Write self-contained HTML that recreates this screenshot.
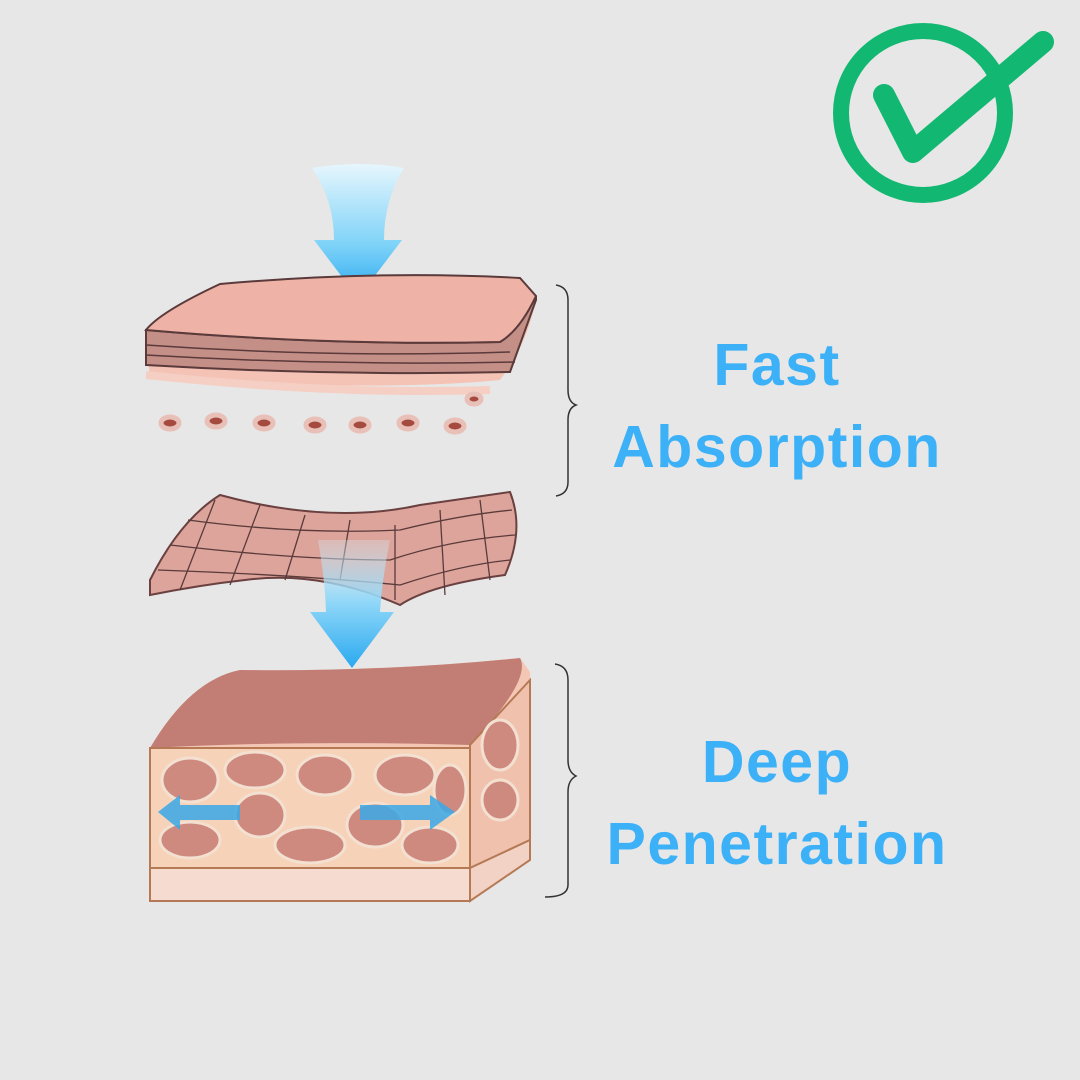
<!DOCTYPE html>
<html><head><meta charset="utf-8"><style>
html,body{margin:0;padding:0;background:#e7e7e7;}
svg{display:block}
</style></head><body>
<svg width="1080" height="1080" viewBox="0 0 1080 1080" xmlns="http://www.w3.org/2000/svg">
<defs>
<linearGradient id="ar" x1="0" y1="0" x2="0" y2="1">
<stop offset="0" stop-color="#e6f6fd"/><stop offset="0.6" stop-color="#7fd3f8"/><stop offset="1" stop-color="#2aa9ef"/></linearGradient>
<linearGradient id="ar2" x1="0" y1="0" x2="0" y2="1">
<stop offset="0" stop-color="#d9eef8" stop-opacity="0.3"/><stop offset="0.5" stop-color="#8dd6f8"/><stop offset="1" stop-color="#2aa9ef"/></linearGradient>
</defs>
<rect width="1080" height="1080" fill="#e7e7e7"/>
<!-- check -->
<circle cx="923" cy="113" r="82" fill="none" stroke="#12b872" stroke-width="16"/>
<path d="M884 95 L913 152 L1043 42" fill="none" stroke="#12b872" stroke-width="22" stroke-linecap="round" stroke-linejoin="round"/>
<!-- top arrow -->
<path d="M312 168 Q360 160 404 168 Q384 200 384 240 L402 240 L358 298 L314 240 L334 240 Q334 200 312 168Z" fill="url(#ar)"/>
<!-- top layer -->
<path d="M146 340 Q160 320 220 290 Q380 270 520 280 L536 296 Q530 340 500 380 Q380 392 150 378Z" fill="#f4c3b6"/>
<path d="M146 330 L146 365 Q330 376 510 372 L536 300 L536 296 Q520 330 500 342 Q330 346 146 330Z" fill="#c48f87" stroke="#5a3a3a" stroke-width="2"/>
<path d="M146 330 Q160 312 220 284 Q380 270 520 278 L536 296 Q520 330 500 342 Q330 346 146 330Z" fill="#eeb3a6" stroke="#5a3a3a" stroke-width="2"/>
<path d="M146 345 Q330 358 510 352 M146 355 Q330 366 515 362" stroke="#5a3a3a" stroke-width="1.5" fill="none"/>
<path d="M146 375 Q330 395 490 390" stroke="#f5cfc4" stroke-width="8" fill="none"/>
<g fill="#a54a3e" stroke="#e8c0b8" stroke-width="5">
<ellipse cx="170" cy="423" rx="9" ry="6"/><ellipse cx="216" cy="421" rx="9" ry="6"/><ellipse cx="264" cy="423" rx="9" ry="6"/><ellipse cx="315" cy="425" rx="9" ry="6"/><ellipse cx="360" cy="425" rx="9" ry="6"/><ellipse cx="408" cy="423" rx="9" ry="6"/><ellipse cx="455" cy="426" rx="9" ry="6"/><ellipse cx="474" cy="399" rx="7" ry="5"/>
</g>
<!-- mesh -->
<path d="M150 580 Q180 520 220 495 Q330 525 420 505 L510 492 Q525 530 505 575 Q430 585 400 605 Q320 570 245 580 Q200 585 150 595Z" fill="#dca49a" stroke="#6a4040" stroke-width="2"/>
<g stroke="#5a3a3a" stroke-width="1.3" fill="none">
<path d="M170 545 Q300 560 390 560 Q450 540 515 535"/><path d="M188 520 Q300 535 400 530 Q460 515 512 510"/><path d="M158 570 Q300 575 400 585 Q460 565 510 560"/>
<path d="M215 500 L180 590"/><path d="M260 505 L230 585"/><path d="M305 515 L285 580"/><path d="M350 520 L340 580"/><path d="M395 525 L395 600"/><path d="M440 510 L445 595"/><path d="M480 500 L490 580"/>
</g>
<path d="M318 540 L390 540 Q382 580 380 612 L394 612 L352 668 L310 612 L326 612 Q325 580 318 540Z" fill="url(#ar2)"/>
<!-- block -->
<path d="M150 748 Q190 680 240 670 Q380 672 520 658 L530 672 L530 840 L470 900 L150 900Z" fill="#f4c7b4"/>
<path d="M150 748 Q190 680 240 670 Q380 672 520 658 Q532 680 470 745 Q300 740 150 748Z" fill="#c27e74"/>
<rect x="150" y="748" width="320" height="120" fill="#f6d2b8" stroke="#b57a55" stroke-width="2"/>
<path d="M470 745 L530 680 L530 840 L470 868Z" fill="#f0c2ad" stroke="#b57a55" stroke-width="2"/>
<rect x="150" y="868" width="320" height="33" fill="#f6dcd0" stroke="#b57a55" stroke-width="2"/>
<path d="M470 868 L530 840 L530 860 L470 901Z" fill="#f3d2c6" stroke="#b57a55" stroke-width="2"/>
<g fill="#cf8a80" stroke="#f3e0d0" stroke-width="3">
<ellipse cx="190" cy="780" rx="28" ry="22"/><ellipse cx="255" cy="770" rx="30" ry="18"/><ellipse cx="325" cy="775" rx="28" ry="20"/><ellipse cx="405" cy="775" rx="30" ry="20"/><ellipse cx="450" cy="790" rx="16" ry="25"/>
<ellipse cx="190" cy="840" rx="30" ry="18"/><ellipse cx="260" cy="815" rx="25" ry="22"/><ellipse cx="310" cy="845" rx="35" ry="18"/><ellipse cx="375" cy="825" rx="28" ry="22"/><ellipse cx="430" cy="845" rx="28" ry="18"/>
<ellipse cx="500" cy="745" rx="18" ry="25"/><ellipse cx="500" cy="800" rx="18" ry="20"/>
</g>
<path d="M158 812 L180 795 L180 805 L240 805 L240 820 L180 820 L180 830Z" fill="#3aa8e6" opacity="0.85"/>
<path d="M455 812 L430 795 L430 805 L360 805 L360 820 L430 820 L430 830Z" fill="#3aa8e6" opacity="0.85"/>
<!-- braces -->
<path d="M556 285 Q568 287 568 300 L568 390 Q568 402 576 405 Q568 408 568 420 L568 482 Q568 494 556 496" fill="none" stroke="#333" stroke-width="1.5"/>
<path d="M555 664 Q568 666 568 680 L568 760 Q568 772 576 776 Q568 780 568 792 L568 885 Q568 897 545 897" fill="none" stroke="#333" stroke-width="1.5"/>
<g font-family="Liberation Sans, sans-serif" font-weight="bold" fill="#3cb1f7" text-anchor="middle" font-size="59" letter-spacing="1.5">
<text x="777" y="385">Fast</text>
<text x="777" y="467">Absorption</text>
<text x="777" y="782">Deep</text>
<text x="777" y="864">Penetration</text>
</g>
</svg>
</body></html>
